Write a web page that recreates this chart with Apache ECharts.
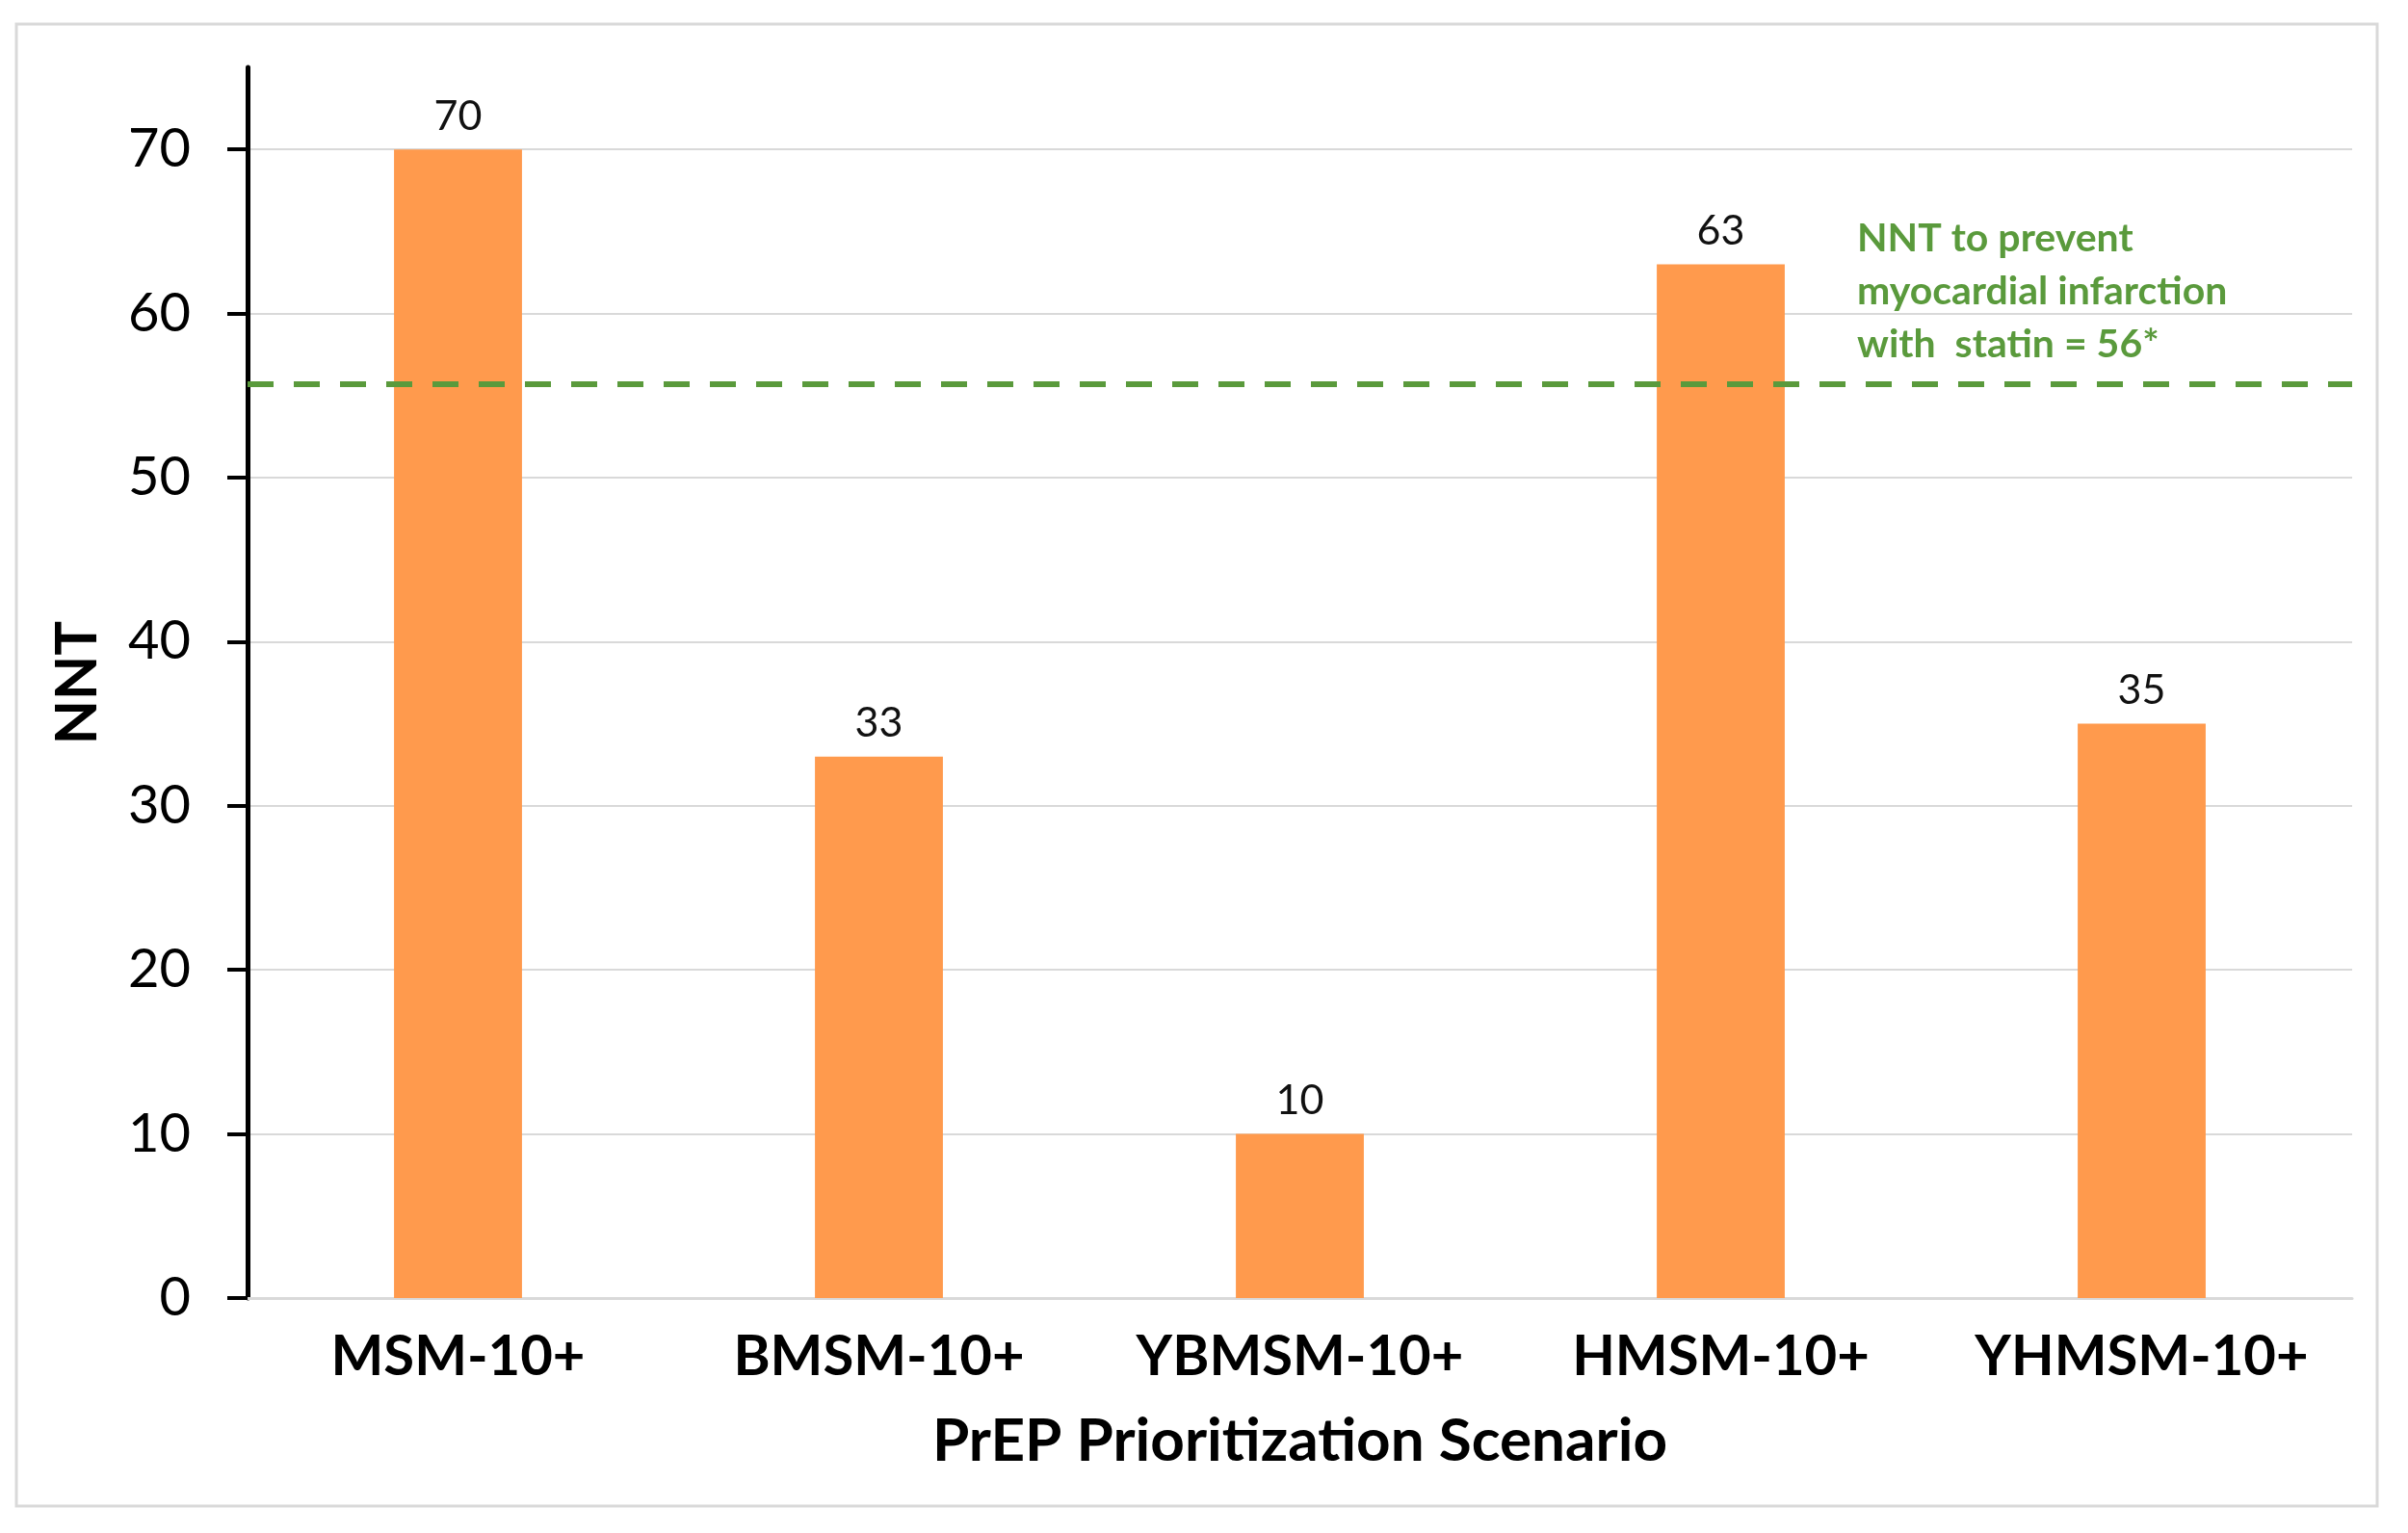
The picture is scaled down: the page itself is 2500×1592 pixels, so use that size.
<!DOCTYPE html>
<html>
<head>
<meta charset="utf-8">
<script src="https://cdn.jsdelivr.net/npm/echarts@6/dist/echarts.min.js"></script>
<style>
  html, body { margin: 0; padding: 0; background: #fff; }
  #container { width: 2500px; height: 1592px; }
</style>
</head>
<body>
<div id="container"></div>
<script>
    // scenarios and NNT values
    var scenarios = ['MSM-10+', 'BMSM-10+', 'YBMSM-10+', 'HMSM-10+', 'YHMSM-10+'];
    var nntValues = [70, 33, 10, 63, 35];
    var yTicks = [0, 10, 20, 30, 40, 50, 60, 70];
    // dashed reference line, as drawn (labelled 56)
    var statinLine = 55.7;
    var noteLines = ['NNT to prevent', 'myocardial infarction', 'with  statin = 56*'];

    var green = '#5a9a3c';
    var font = 'Lato, "Open Sans", sans-serif';

    var option = {
        backgroundColor: '#fff',
        animation: false,
        textStyle: { fontFamily: font },
        graphic: [
            {
                type: 'rect',
                shape: { x: 17, y: 25, width: 2451, height: 1539 },
                style: { fill: 'none', stroke: '#d9d9d9', lineWidth: 3 },
                silent: true
            },
            {
                type: 'text',
                left: 1928,
                top: 220,
                style: {
                    text: noteLines.join('\n'),
                    fill: green,
                    font: 'bold 41px ' + font,
                    lineHeight: 55
                },
                silent: true
            }
        ],
        grid: { left: 257, right: 58, top: 70, bottom: 244, containLabel: false },
        xAxis: {
            type: 'category',
            data: scenarios,
            name: 'PrEP Prioritization Scenario',
            nameLocation: 'middle',
            nameGap: 118,
            nameTextStyle: { fontSize: 62, fontWeight: 'bold', color: '#000', fontFamily: font },
            axisLine: { lineStyle: { color: '#d9d9d9', width: 3 } },
            axisTick: { show: false },
            axisLabel: { interval: 0, fontSize: 58, fontWeight: 'bold', color: '#000', margin: 32, fontFamily: font }
        },
        yAxis: {
            type: 'value',
            min: 0,
            max: 75,
            interval: 10,
            name: 'NNT',
            nameLocation: 'middle',
            nameGap: 146,
            nameTextStyle: { fontSize: 60, fontWeight: 'bold', color: '#000', fontFamily: font },
            axisLine: { show: true, lineStyle: { color: '#000', width: 5 } },
            axisTick: { show: true, length: 21, customValues: yTicks, lineStyle: { color: '#000', width: 4 } },
            axisLabel: { fontSize: 56, color: '#000', margin: 59, customValues: yTicks, fontFamily: font },
            splitLine: { show: true, lineStyle: { color: '#d9d9d9', width: 2 } }
        },
        series: [
            {
                name: 'NNT',
                type: 'bar',
                data: nntValues,
                barWidth: '30.4%',
                itemStyle: { color: '#ff9a4d' },
                label: {
                    show: true,
                    position: 'top',
                    distance: 13,
                    fontSize: 43,
                    color: '#111',
                    fontFamily: font
                },
                markLine: {
                    silent: true,
                    symbol: 'none',
                    label: { show: false },
                    lineStyle: { color: green, width: 6, type: [27, 21] },
                    data: [{ yAxis: statinLine }]
                }
            }
        ]
    };
    var myChart = echarts.init(document.getElementById('container'));
    myChart.setOption(option);
</script>
</body>
</html>
